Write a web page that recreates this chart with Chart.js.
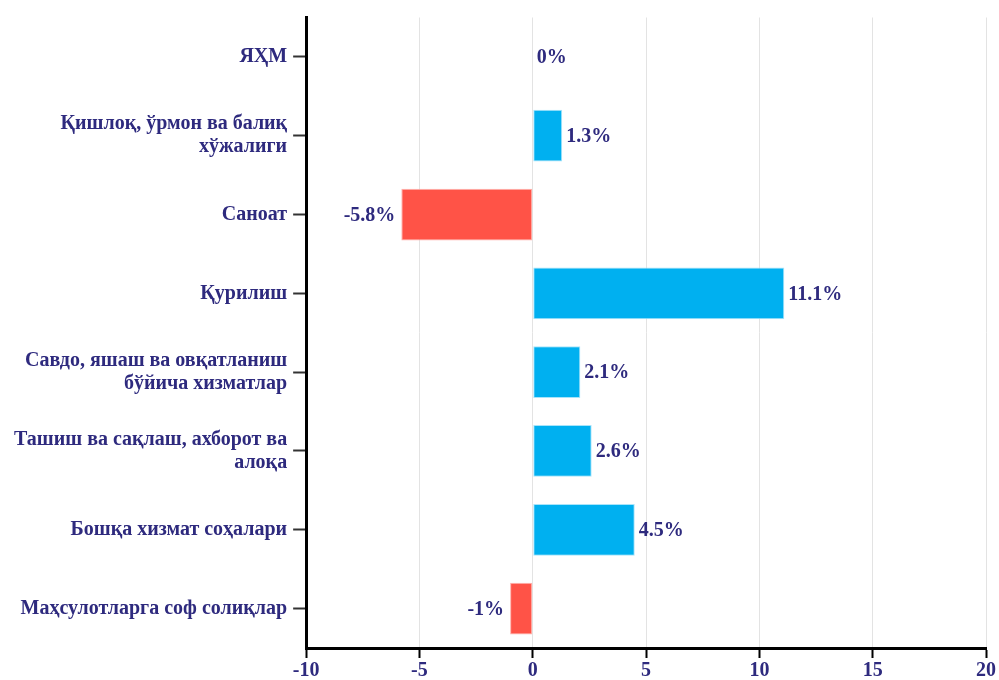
<!DOCTYPE html>
<html>
<head>
<meta charset="utf-8">
<script src="https://cdn.jsdelivr.net/npm/chart.js@4"></script>
<style>
html,body{margin:0;padding:0;background:#fff;}
#wrap{width:999px;height:680px;position:relative;}
</style>
</head>
<body>
<div id="wrap"><canvas id="c" width="999" height="680"></canvas></div>
<script>
const categories = [
  "ЯҲМ",
  ["Қишлоқ, ўрмон ва балиқ", "хўжалиги"],
  "Саноат",
  "Қурилиш",
  ["Савдо, яшаш ва овқатланиш", "бўйича хизматлар"],
  ["Ташиш ва сақлаш, ахборот ва", "алоқа"],
  "Бошқа хизмат соҳалари",
  "Маҳсулотларга соф солиқлар"
];
const values = [0, 1.3, -5.8, 11.1, 2.1, 2.6, 4.5, -1];
const xTicks = [-10, -5, 0, 5, 10, 15, 20];

const TEXT = '#2e2a7e';
const FAMILY = '"Liberation Serif", "Times New Roman", serif';
const FONT = {family: FAMILY, weight: 'bold', size: 20, lineHeight: 1.0};

const labelPlugin = {
  id: 'barLabels',
  afterDatasetsDraw(chart) {
    const ctx = chart.ctx;
    const meta = chart.getDatasetMeta(0);
    ctx.save();
    ctx.font = 'bold 20px ' + FAMILY;
    ctx.fillStyle = TEXT;
    ctx.textBaseline = 'middle';
    meta.data.forEach((bar, i) => {
      const v = values[i];
      const txt = v + '%';
      if (v < 0) {
        ctx.textAlign = 'right';
        ctx.fillText(txt, bar.x - 6, bar.y + 1);
      } else {
        ctx.textAlign = 'left';
        ctx.fillText(txt, bar.x + 4, bar.y + 1);
      }
    });
    ctx.restore();
  }
};

new Chart(document.getElementById('c'), {
  type: 'bar',
  data: {
    labels: categories,
    datasets: [{
      data: values,
      backgroundColor: values.map(v => v < 0 ? '#ff5347' : '#00b0f0'),
      borderColor: values.map(v => v < 0 ? '#ffb0aa' : '#a8e4fa'),
      borderWidth: 1,
      borderSkipped: false,
      categoryPercentage: 0.82,
      barPercentage: 0.8
    }]
  },
  options: {
    indexAxis: 'y',
    responsive: false,
    animation: false,
    layout: {padding: {top: 16, right: 0, left: 8, bottom: -4}},
    plugins: {legend: {display: false}, tooltip: {enabled: false}},
    scales: {
      x: {
        min: -10, max: 20,
        afterBuildTicks(axis) { axis.ticks = xTicks.map(v => ({value: v})); },
        grid: {color: '#e3e3e3', lineWidth: 1, tickColor: '#000', tickLength: 10, tickWidth: 2},
        border: {color: '#000', width: 3},
        ticks: {color: TEXT, font: FONT, padding: 3}
      },
      y: {
        grid: {offset: false, drawOnChartArea: false, tickColor: '#333', tickLength: 13, tickWidth: 2},
        border: {color: '#000', width: 3},
        ticks: {color: TEXT, font: Object.assign({}, FONT, {lineHeight: 1.15}), padding: 6}
      }
    }
  },
  plugins: [labelPlugin]
});
</script>
</body>
</html>
